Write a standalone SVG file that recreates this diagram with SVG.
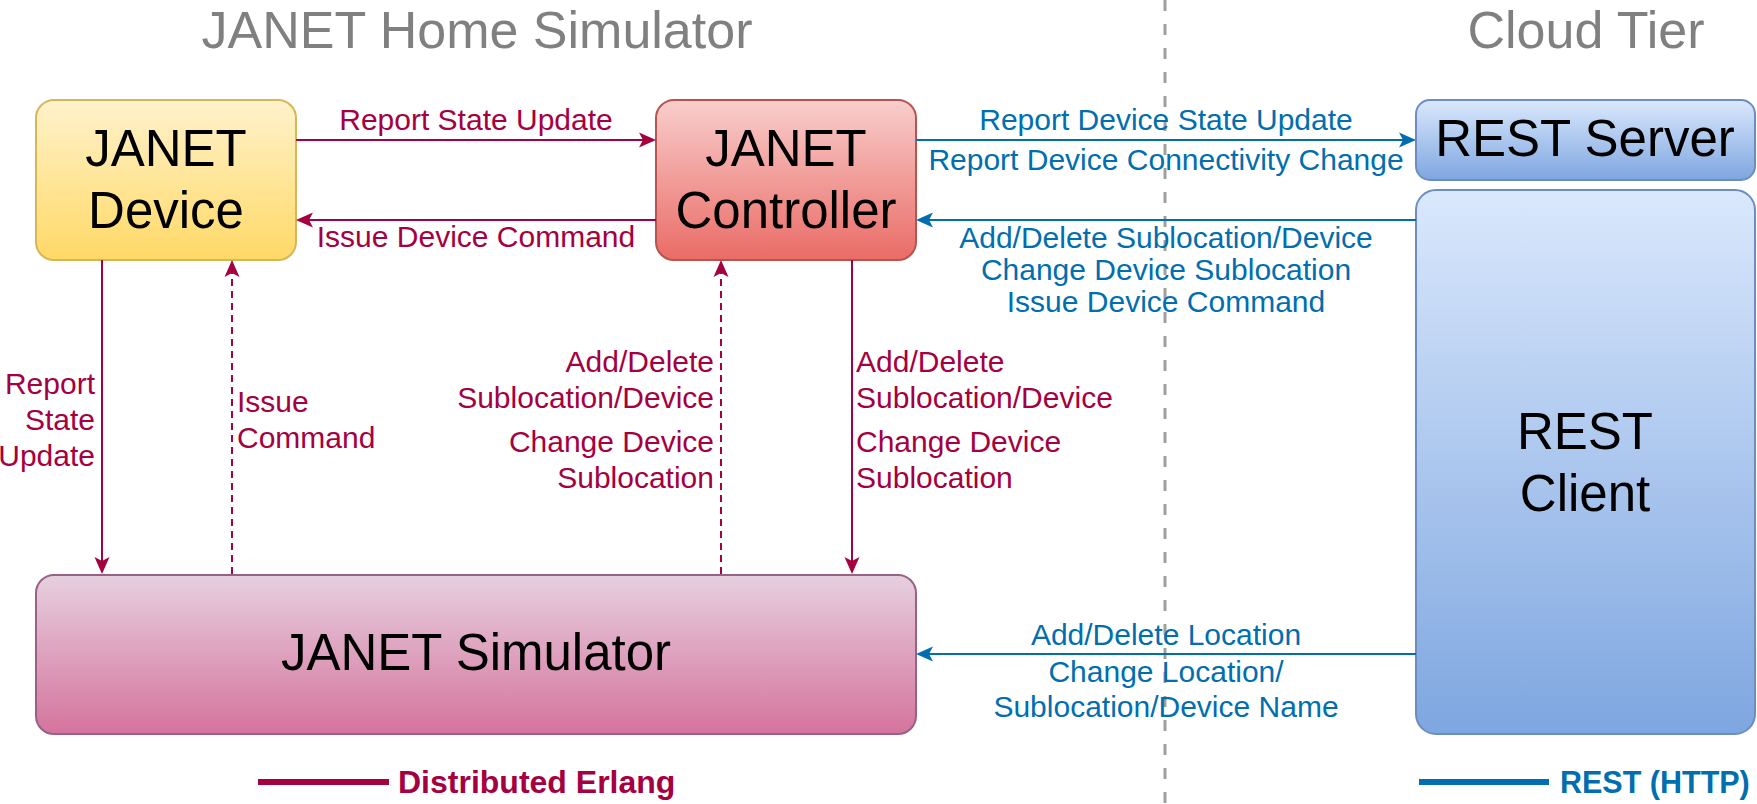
<svg xmlns="http://www.w3.org/2000/svg" width="1757" height="804" viewBox="0 0 1757 804">
<defs>
<style>
.t{font-family:"Liberation Sans",Arial,sans-serif}
.node{font-size:51px;fill:#000;text-anchor:middle}
.title{font-size:52px;fill:#808080;text-anchor:middle}
.lr{font-size:30px;fill:#A50040}
.lb{font-size:30px;fill:#006EAF}
.leg{font-size:32px;font-weight:bold}
.box{stroke-width:2}
.red{stroke:#A50040;stroke-width:2;fill:none}
.blue{stroke:#006EAF;stroke-width:2;fill:none}
.dash{stroke-dasharray:7 5}
</style>
<linearGradient id="gY" x1="0" y1="0" x2="0" y2="1"><stop offset="0" stop-color="#fff2cc"/><stop offset="1" stop-color="#ffd966"/></linearGradient>
<linearGradient id="gR" x1="0" y1="0" x2="0" y2="1"><stop offset="0" stop-color="#f8cecc"/><stop offset="1" stop-color="#ea6b66"/></linearGradient>
<linearGradient id="gB" x1="0" y1="0" x2="0" y2="1"><stop offset="0" stop-color="#dae8fc"/><stop offset="1" stop-color="#7ea6e0"/></linearGradient>
<linearGradient id="gP" x1="0" y1="0" x2="0" y2="1"><stop offset="0" stop-color="#e6d0de"/><stop offset="1" stop-color="#d5739d"/></linearGradient>
<marker id="aR" viewBox="0 0 17 16" refX="4" refY="8" markerWidth="17" markerHeight="16" markerUnits="userSpaceOnUse" orient="auto"><path d="M0,0.5 L17,8 L0,15.5 L4,8 Z" fill="#A50040"/></marker>
<marker id="aB" viewBox="0 0 17 16" refX="4" refY="8" markerWidth="17" markerHeight="16" markerUnits="userSpaceOnUse" orient="auto"><path d="M0,0.5 L17,8 L0,15.5 L4,8 Z" fill="#006EAF"/></marker>
</defs>
<rect width="1757" height="804" fill="#fff"/>

<g id="divider">
<line x1="1165" y1="0" x2="1165" y2="804" stroke="#a0a0a0" stroke-width="3" stroke-dasharray="11 13"/>
</g>

<g id="titles" class="t">
<text class="title t" x="477" y="48">JANET Home Simulator</text>
<text class="title t" x="1586" y="48">Cloud Tier</text>
</g>

<g id="node-device">
<rect class="box" x="36" y="100" width="260" height="160" rx="18" fill="url(#gY)" stroke="#d6b656"/>
<text class="node t" x="166" y="166">JANET</text>
<text class="node t" x="166" y="228">Device</text>
</g>

<g id="node-controller">
<rect class="box" x="656" y="100" width="260" height="160" rx="18" fill="url(#gR)" stroke="#b85450"/>
<text class="node t" x="786" y="166">JANET</text>
<text class="node t" x="786" y="228">Controller</text>
</g>

<g id="node-rest-server">
<rect class="box" x="1416" y="100" width="339" height="80" rx="14" fill="url(#gB)" stroke="#6c8ebf"/>
<text class="node t" x="1585" y="156">REST Server</text>
</g>

<g id="node-rest-client">
<rect class="box" x="1416" y="190" width="339" height="544" rx="20" fill="url(#gB)" stroke="#6c8ebf"/>
<text class="node t" x="1585" y="449">REST</text>
<text class="node t" x="1585" y="511">Client</text>
</g>

<g id="node-simulator">
<rect class="box" x="36" y="575" width="880" height="159" rx="18" fill="url(#gP)" stroke="#996185"/>
<text class="node t" x="476" y="670">JANET Simulator</text>
</g>

<g id="connectors">
<path class="red" d="M296,140 H643" marker-end="url(#aR)"/>
<path class="red" d="M656,220 H309" marker-end="url(#aR)"/>
<path class="red" d="M102,260 V561" marker-end="url(#aR)"/>
<path class="red dash" d="M232,574 V273" marker-end="url(#aR)"/>
<path class="red dash" d="M721,574 V273" marker-end="url(#aR)"/>
<path class="red" d="M852,260 V561" marker-end="url(#aR)"/>
<path class="blue" d="M916,140 H1403" marker-end="url(#aB)"/>
<path class="blue" d="M1416,220 H929" marker-end="url(#aB)"/>
<path class="blue" d="M1416,654 H929" marker-end="url(#aB)"/>
</g>

<g id="labels" class="t">
<text class="lr t" x="476" y="130" text-anchor="middle">Report State Update</text>
<text class="lr t" x="476" y="247" text-anchor="middle">Issue Device Command</text>
<text class="lr t" text-anchor="end"><tspan x="95" y="394">Report</tspan><tspan x="95" y="430">State</tspan><tspan x="95" y="466">Update</tspan></text>
<text class="lr t"><tspan x="237" y="412">Issue</tspan><tspan x="237" y="448">Command</tspan></text>
<text class="lr t" text-anchor="end"><tspan x="714" y="372">Add/Delete</tspan><tspan x="714" y="408">Sublocation/Device</tspan></text>
<text class="lr t" text-anchor="end"><tspan x="714" y="452">Change Device</tspan><tspan x="714" y="488">Sublocation</tspan></text>
<text class="lr t"><tspan x="856" y="372">Add/Delete</tspan><tspan x="856" y="408">Sublocation/Device</tspan></text>
<text class="lr t"><tspan x="856" y="452">Change Device</tspan><tspan x="856" y="488">Sublocation</tspan></text>
<text class="lb t" x="1166" y="130" text-anchor="middle">Report Device State Update</text>
<text class="lb t" x="1166" y="170" text-anchor="middle">Report Device Connectivity Change</text>
<text class="lb t" text-anchor="middle"><tspan x="1166" y="248">Add/Delete Sublocation/Device</tspan><tspan x="1166" y="280">Change Device Sublocation</tspan><tspan x="1166" y="312">Issue Device Command</tspan></text>
<text class="lb t" x="1166" y="645" text-anchor="middle">Add/Delete Location</text>
<text class="lb t" text-anchor="middle"><tspan x="1166" y="682">Change Location/</tspan><tspan x="1166" y="717">Sublocation/Device Name</tspan></text>
</g>

<g id="legend" class="t">
<line x1="258" y1="782" x2="389" y2="782" stroke="#A50040" stroke-width="6"/>
<text class="leg t" x="398" y="793" fill="#A50040">Distributed Erlang</text>
<line x1="1419" y1="782" x2="1549" y2="782" stroke="#006EAF" stroke-width="6"/>
<text class="t" x="1560" y="793" fill="#006EAF" font-size="30.5" font-weight="bold">REST (HTTP)</text>
</g>
</svg>
